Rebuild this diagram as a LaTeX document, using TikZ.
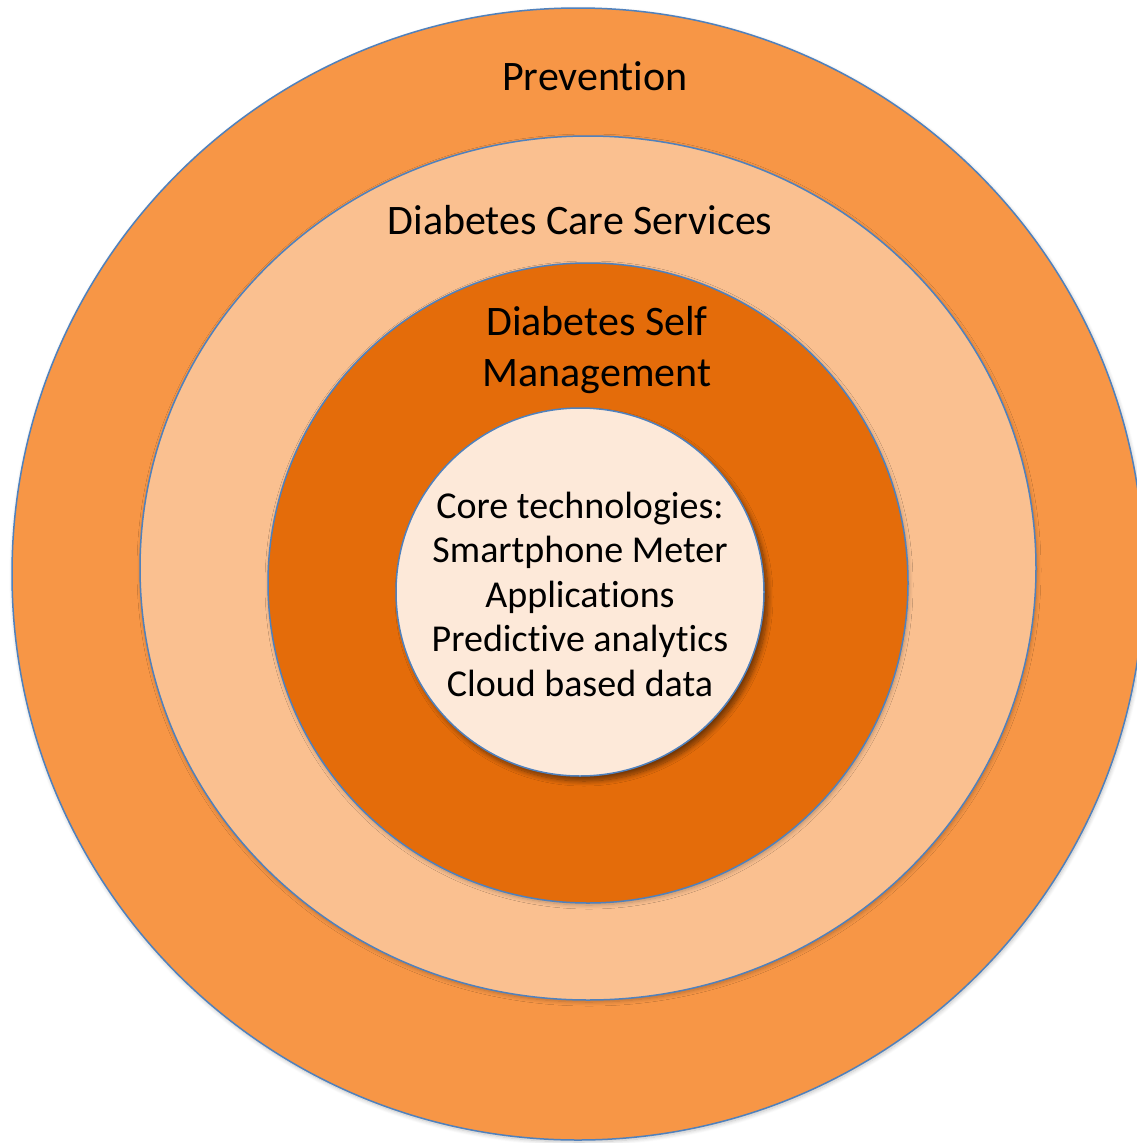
\documentclass[tikz,border=0pt]{standalone}
\usepackage{fontspec}
\setmainfont{Carlito}[Ligatures=NoCommon]
\usetikzlibrary{shadows.blur}
\definecolor{ringA}{HTML}{F79646}
\definecolor{ringB}{HTML}{FAC090}
\definecolor{ringC}{HTML}{E46C0A}
\definecolor{ringD}{HTML}{FDE9D9}
\definecolor{edgeblue}{HTML}{4F81BD}
\tikzset{
  ring/.style={draw=edgeblue, line width=1.5pt},
  softshadow/.style={blur shadow={shadow xshift=1pt, shadow yshift=-2pt, shadow blur steps=8, shadow blur radius=4pt, shadow opacity=25}},
  bigtext/.style={font=\fontsize{42}{51}\selectfont, align=center, inner sep=0pt, anchor=base},
  coretext/.style={font=\fontsize{38}{44.5}\selectfont, align=center, inner sep=0pt, anchor=base},
}
\begin{document}
\begin{tikzpicture}[x=1pt, y=-1pt]
\useasboundingbox (0,0) rectangle (1137,1143);
\begin{scope}
\clip (0,0) rectangle (1137,1143);
\path[ring, fill=ringA, softshadow] (578,574) ellipse [x radius=566, y radius=566];
\path[ring, fill=ringB, softshadow] (588,568) ellipse [x radius=448, y radius=432];
\path[ring, fill=ringC, softshadow] (588,583) ellipse [x radius=320, y radius=320];
\path[ring, fill=ringD, blur shadow={shadow xshift=4pt, shadow yshift=-5pt, shadow blur steps=10, shadow blur radius=5pt, shadow opacity=50}] (580,592) ellipse [x radius=184, y radius=184];
\end{scope}
\node[bigtext] (prev) at (595,90) {Prevention};
\node[bigtext] (care) at (580,234) {Diabetes Care Services};
\node[bigtext] (self) at (597,386) {Diabetes Self\\Management};
\node[coretext] (core) at (580,696) {Core technologies:\\Smartphone Meter\\Applications\\Predictive analytics\\Cloud based data};
\end{tikzpicture}
\end{document}
